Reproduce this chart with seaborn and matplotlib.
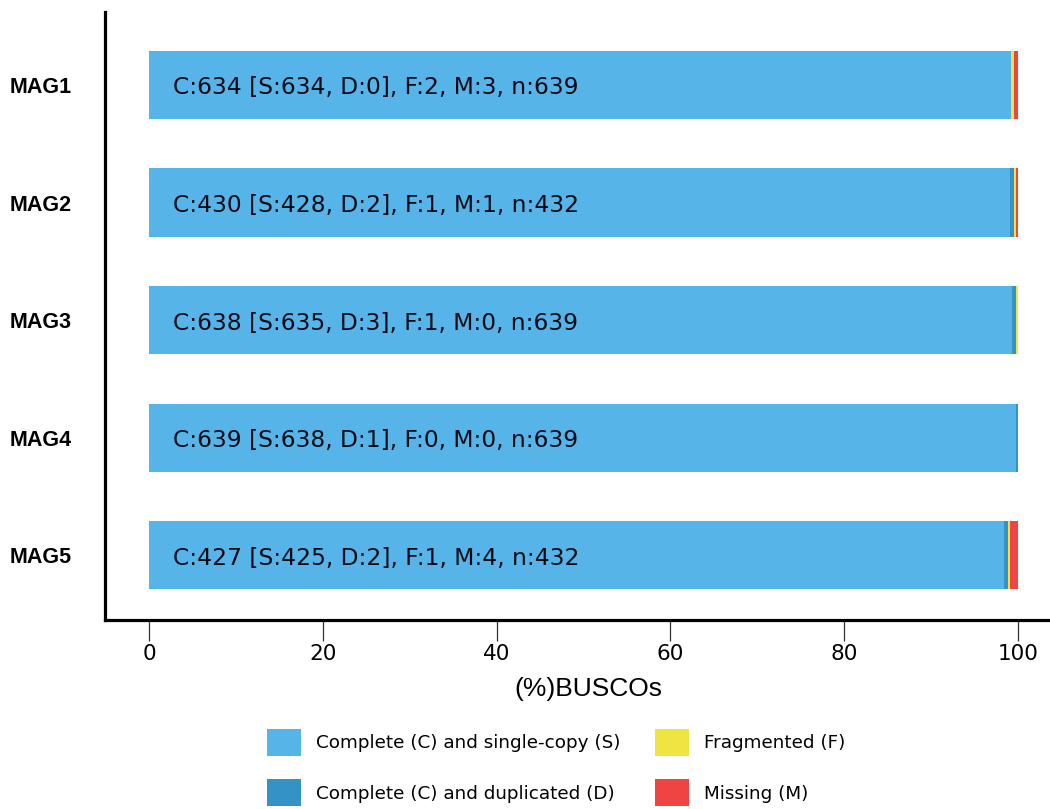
import matplotlib
matplotlib.use("Agg")
import matplotlib.pyplot as plt
from matplotlib.patches import Patch
import numpy as np
import pandas as pd
import seaborn as sns

# BUSCO completeness counts per genome bin
mags = ["MAG1", "MAG2", "MAG3", "MAG4", "MAG5"]
single_copy = [634, 428, 635, 638, 425]
duplicated = [0, 2, 3, 1, 2]
fragmented = [2, 1, 1, 0, 1]
missing = [3, 1, 0, 0, 4]
n_total = [639, 432, 639, 639, 432]

categories = ["Complete (C) and single-copy (S)", "Complete (C) and duplicated (D)",
              "Fragmented (F)", "Missing (M)"]
colors = ["#56B4E9", "#3492C7", "#F0E442", "#F04442"]

sns.set_style("white")
plt.rcParams["font.family"] = ["DejaVu Sans"]
plt.rcParams["text.color"] = "black"
plt.rcParams["axes.labelcolor"] = "black"
plt.rcParams["xtick.color"] = "black"
plt.rcParams["ytick.color"] = "black"

counts = np.array([single_copy, duplicated, fragmented, missing], dtype=float)
pct = counts / np.array(n_total, dtype=float) * 100.0
cum = np.cumsum(pct, axis=0)

fig = plt.figure(figsize=(10.5, 8.09), dpi=100)
ax = fig.add_axes([0.1, 0.2336, 0.9, 0.7515])

# Stacked bars: draw cumulative totals from the outermost segment inwards
for k in range(3, -1, -1):
    df = pd.DataFrame({"mag": mags, "value": cum[k]})
    sns.barplot(data=df, x="value", y="mag", orient="h", color=colors[k],
                saturation=1, width=0.58, linewidth=0, ax=ax)

for i, m in enumerate(mags):
    s, d, f, mi, n = single_copy[i], duplicated[i], fragmented[i], missing[i], n_total[i]
    label = f"C:{s + d} [S:{s}, D:{d}], F:{f}, M:{mi}, n:{n}"
    ax.text(2.8, i + 0.025, label, va="center", ha="left", fontsize=16.8, color="#0a0a14")

ax.set_xlim(-5.07, 103.7)
ax.set_ylim(4.55, -0.62)
ax.set_xticks([0, 20, 40, 60, 80, 100])
ax.set_xticklabels(["0", "20", "40", "60", "80", "100"])

for side in ("top", "right"):
    ax.spines[side].set_visible(False)
for side in ("left", "bottom"):
    ax.spines[side].set_linewidth(2.3)
    ax.spines[side].set_color("black")

ax.tick_params(axis="x", length=15, width=0.9, color="#333333", labelsize=15.5,
               pad=2, bottom=True, labelcolor="black")
ax.tick_params(axis="y", length=0, pad=24, labelcolor="black")
for lab in ax.get_yticklabels():
    lab.set_fontfamily("Liberation Sans")
    lab.set_fontweight("bold")
    lab.set_fontsize(15.5)

ax.set_ylabel("")
ax.set_xlabel("(%)BUSCOs", fontsize=19, family="Liberation Sans", color="black")
ax.xaxis.set_label_coords(0.5115, -0.094)

handles = [Patch(facecolor=c, edgecolor="none", label=l) for c, l in zip(colors, categories)]
fig.legend(handles=handles, loc="upper left", bbox_to_anchor=(267 / 1050, 1 - 729 / 809),
           ncol=2, frameon=False, fontsize=13.2, borderpad=0, borderaxespad=0,
           handlelength=1.85, handleheight=1.85, handletextpad=0.85,
           columnspacing=1.85, labelspacing=1.3, labelcolor="black")

fig.savefig("out.png", dpi=100)
